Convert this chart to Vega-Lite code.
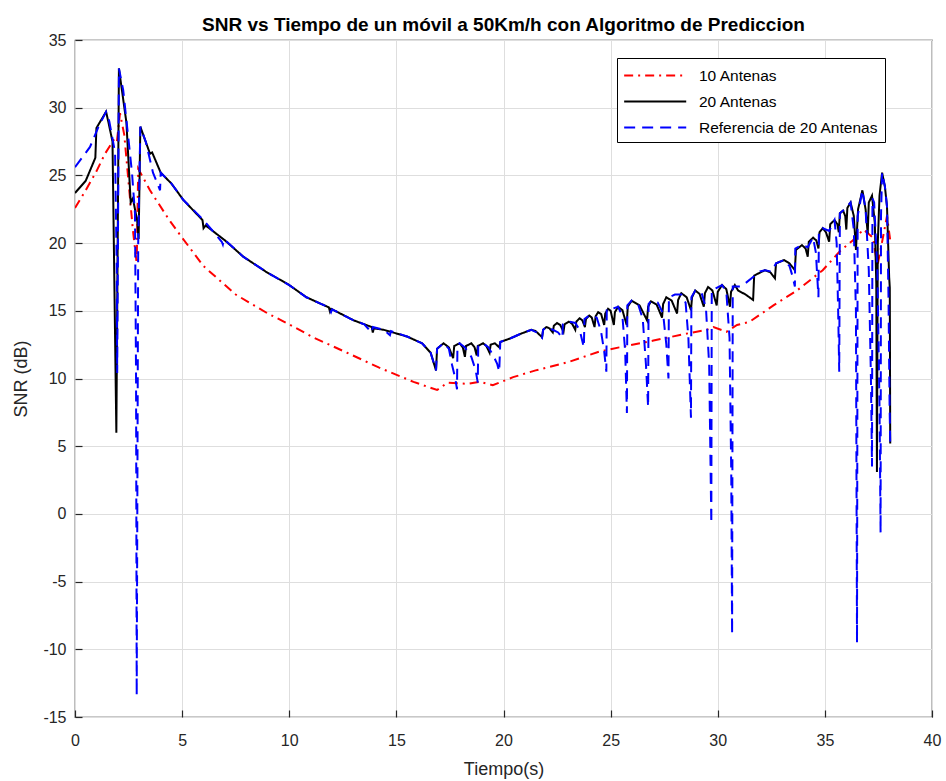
{
  "$schema": "https://vega.github.io/schema/vega-lite/v6.json",
  "width": 857,
  "height": 677,
  "autosize": {"type": "none"},
  "padding": {"left": 75, "top": 40, "right": 14, "bottom": 64},
  "background": "white",
  "title": {
    "text": "SNR vs Tiempo de un móvil a 50Km/h con Algoritmo de Prediccion",
    "fontSize": 19,
    "fontWeight": "bold",
    "font": "Liberation Sans",
    "color": "#000000",
    "anchor": "middle",
    "frame": "group",
    "baseline": "bottom",
    "offset": 8,
    "dy": 30
  },
  "config": {
    "font": "Liberation Sans",
    "view": {"stroke": "#262626", "strokeWidth": 1.2},
    "axis": {
      "labelFont": "Liberation Sans",
      "labelFontSize": 16,
      "labelColor": "#262626",
      "titleFont": "Liberation Sans",
      "titleFontSize": 18,
      "titleFontWeight": "normal",
      "titleColor": "#262626",
      "gridColor": "#dedede",
      "gridWidth": 1,
      "domain": false,
      "tickColor": "#262626",
      "tickSize": -7,
      "tickWidth": 1.2
    }
  },
  "data": {"values": [
    {"s":"10 Antenas","t":0,"v":22.6},{"s":"10 Antenas","t":0.5,"v":23.9},{"s":"10 Antenas","t":1.0,"v":25.3},{"s":"10 Antenas","t":1.4,"v":26.6},{"s":"10 Antenas","t":1.8,"v":27.6},{"s":"10 Antenas","t":1.95,"v":27.4},{"s":"10 Antenas","t":2.1,"v":29.6},{"s":"10 Antenas","t":2.3,"v":28.0},{"s":"10 Antenas","t":2.5,"v":24.5},{"s":"10 Antenas","t":2.7,"v":21.0},{"s":"10 Antenas","t":2.88,"v":18.5},{"s":"10 Antenas","t":2.95,"v":25.5},{"s":"10 Antenas","t":3.5,"v":23.9},{"s":"10 Antenas","t":4.4,"v":21.7},{"s":"10 Antenas","t":5.0,"v":20.4},{"s":"10 Antenas","t":6.0,"v":18.3},{"s":"10 Antenas","t":7.5,"v":16.2},{"s":"10 Antenas","t":9.0,"v":14.8},{"s":"10 Antenas","t":10.0,"v":14.0},{"s":"10 Antenas","t":11.1,"v":13.05},{"s":"10 Antenas","t":12.7,"v":11.9},{"s":"10 Antenas","t":14.2,"v":10.8},{"s":"10 Antenas","t":15.8,"v":9.75},{"s":"10 Antenas","t":16.9,"v":9.15},{"s":"10 Antenas","t":17.4,"v":9.7},{"s":"10 Antenas","t":18.3,"v":9.6},{"s":"10 Antenas","t":18.9,"v":9.75},{"s":"10 Antenas","t":19.5,"v":9.5},{"s":"10 Antenas","t":20.45,"v":10.1},{"s":"10 Antenas","t":21.5,"v":10.6},{"s":"10 Antenas","t":23.0,"v":11.2},{"s":"10 Antenas","t":24.5,"v":12.0},{"s":"10 Antenas","t":25.4,"v":12.3},{"s":"10 Antenas","t":27.0,"v":12.8},{"s":"10 Antenas","t":28.5,"v":13.3},{"s":"10 Antenas","t":29.5,"v":13.6},{"s":"10 Antenas","t":29.8,"v":13.8},{"s":"10 Antenas","t":30.4,"v":13.45},{"s":"10 Antenas","t":30.9,"v":13.95},{"s":"10 Antenas","t":31.5,"v":14.2},{"s":"10 Antenas","t":32.6,"v":15.4},{"s":"10 Antenas","t":33.7,"v":16.5},{"s":"10 Antenas","t":34.9,"v":18.0},{"s":"10 Antenas","t":35.7,"v":19.4},{"s":"10 Antenas","t":36.3,"v":20.2},{"s":"10 Antenas","t":36.8,"v":21.0},{"s":"10 Antenas","t":37.25,"v":20.4},{"s":"10 Antenas","t":37.45,"v":18.3},{"s":"10 Antenas","t":37.6,"v":19.5},{"s":"10 Antenas","t":37.9,"v":22.0},{"s":"10 Antenas","t":38.05,"v":20.2},

    {"s":"20 Antenas","t":0,"v":23.7},{"s":"20 Antenas","t":0.5,"v":24.6},{"s":"20 Antenas","t":0.95,"v":26.3},{"s":"20 Antenas","t":1.0,"v":28.5},{"s":"20 Antenas","t":1.45,"v":29.7},{"s":"20 Antenas","t":1.55,"v":29.0},{"s":"20 Antenas","t":1.75,"v":27.5},{"s":"20 Antenas","t":1.93,"v":6.0},{"s":"20 Antenas","t":2.05,"v":32.9},{"s":"20 Antenas","t":2.4,"v":28.9},{"s":"20 Antenas","t":2.6,"v":23.0},{"s":"20 Antenas","t":2.7,"v":23.3},{"s":"20 Antenas","t":2.9,"v":21.7},{"s":"20 Antenas","t":2.97,"v":20.3},{"s":"20 Antenas","t":3.05,"v":28.6},{"s":"20 Antenas","t":3.5,"v":26.6},{"s":"20 Antenas","t":3.6,"v":26.7},{"s":"20 Antenas","t":4.0,"v":25.2},{"s":"20 Antenas","t":4.5,"v":24.4},{"s":"20 Antenas","t":5.05,"v":23.2},{"s":"20 Antenas","t":5.95,"v":21.7},{"s":"20 Antenas","t":6.0,"v":21.1},{"s":"20 Antenas","t":6.1,"v":21.3},{"s":"20 Antenas","t":7.0,"v":20.2},{"s":"20 Antenas","t":7.85,"v":19.0},{"s":"20 Antenas","t":8.9,"v":17.9},{"s":"20 Antenas","t":10.0,"v":16.9},{"s":"20 Antenas","t":10.8,"v":16.0},{"s":"20 Antenas","t":11.85,"v":15.25},{"s":"20 Antenas","t":11.9,"v":14.95},{"s":"20 Antenas","t":11.95,"v":15.15},{"s":"20 Antenas","t":13.0,"v":14.3},{"s":"20 Antenas","t":13.85,"v":13.8},{"s":"20 Antenas","t":13.9,"v":13.4},{"s":"20 Antenas","t":13.95,"v":13.7},{"s":"20 Antenas","t":14.4,"v":13.6},{"s":"20 Antenas","t":15.5,"v":13.1},{"s":"20 Antenas","t":16.2,"v":12.6},{"s":"20 Antenas","t":16.6,"v":11.9},{"s":"20 Antenas","t":16.85,"v":10.6},{"s":"20 Antenas","t":16.9,"v":12.2},{"s":"20 Antenas","t":17.2,"v":12.6},{"s":"20 Antenas","t":17.45,"v":12.3},{"s":"20 Antenas","t":17.65,"v":11.5},{"s":"20 Antenas","t":17.7,"v":12.4},{"s":"20 Antenas","t":17.95,"v":12.6},{"s":"20 Antenas","t":18.1,"v":12.3},{"s":"20 Antenas","t":18.2,"v":11.6},{"s":"20 Antenas","t":18.25,"v":12.4},{"s":"20 Antenas","t":18.5,"v":12.6},{"s":"20 Antenas","t":18.65,"v":12.3},{"s":"20 Antenas","t":18.75,"v":11.7},{"s":"20 Antenas","t":18.8,"v":12.4},{"s":"20 Antenas","t":19.05,"v":12.6},{"s":"20 Antenas","t":19.2,"v":12.4},{"s":"20 Antenas","t":19.35,"v":11.9},{"s":"20 Antenas","t":19.4,"v":12.5},{"s":"20 Antenas","t":19.6,"v":12.6},{"s":"20 Antenas","t":19.8,"v":12.3},{"s":"20 Antenas","t":19.85,"v":12.7},{"s":"20 Antenas","t":20.3,"v":12.95},{"s":"20 Antenas","t":20.8,"v":13.3},{"s":"20 Antenas","t":21.3,"v":13.6},{"s":"20 Antenas","t":21.5,"v":13.5},{"s":"20 Antenas","t":21.8,"v":13.05},
    {"s":"20 Antenas","t":21.85,"v":13.6},{"s":"20 Antenas","t":22.0,"v":13.8},{"s":"20 Antenas","t":22.15,"v":13.7},{"s":"20 Antenas","t":22.3,"v":13.4},
    {"s":"20 Antenas","t":22.35,"v":13.9},{"s":"20 Antenas","t":22.5,"v":14.1},{"s":"20 Antenas","t":22.65,"v":13.95},{"s":"20 Antenas","t":22.8,"v":13.45},
    {"s":"20 Antenas","t":22.85,"v":14.0},{"s":"20 Antenas","t":23.05,"v":14.2},{"s":"20 Antenas","t":23.2,"v":14.05},{"s":"20 Antenas","t":23.35,"v":13.6},
    {"s":"20 Antenas","t":23.4,"v":14.2},{"s":"20 Antenas","t":23.55,"v":14.45},{"s":"20 Antenas","t":23.68,"v":14.3},{"s":"20 Antenas","t":23.8,"v":13.8},
    {"s":"20 Antenas","t":23.85,"v":14.4},{"s":"20 Antenas","t":24.0,"v":14.65},{"s":"20 Antenas","t":24.12,"v":14.5},{"s":"20 Antenas","t":24.25,"v":13.8},
    {"s":"20 Antenas","t":24.3,"v":14.6},{"s":"20 Antenas","t":24.42,"v":14.9},{"s":"20 Antenas","t":24.56,"v":14.75},{"s":"20 Antenas","t":24.7,"v":13.95},
    {"s":"20 Antenas","t":24.75,"v":14.8},{"s":"20 Antenas","t":24.88,"v":15.15},{"s":"20 Antenas","t":25.0,"v":15.0},{"s":"20 Antenas","t":25.15,"v":13.95},
    {"s":"20 Antenas","t":25.2,"v":14.9},{"s":"20 Antenas","t":25.35,"v":15.3},{"s":"20 Antenas","t":25.55,"v":15.05},{"s":"20 Antenas","t":25.75,"v":13.95},
    {"s":"20 Antenas","t":25.8,"v":15.3},{"s":"20 Antenas","t":25.98,"v":15.75},{"s":"20 Antenas","t":26.35,"v":15.4},{"s":"20 Antenas","t":26.7,"v":14.3},
    {"s":"20 Antenas","t":26.75,"v":15.3},{"s":"20 Antenas","t":26.88,"v":15.7},{"s":"20 Antenas","t":27.15,"v":15.45},{"s":"20 Antenas","t":27.4,"v":14.5},
    {"s":"20 Antenas","t":27.45,"v":15.5},{"s":"20 Antenas","t":27.6,"v":16.0},{"s":"20 Antenas","t":27.85,"v":15.75},{"s":"20 Antenas","t":28.1,"v":14.8},
    {"s":"20 Antenas","t":28.15,"v":15.8},{"s":"20 Antenas","t":28.3,"v":16.3},{"s":"20 Antenas","t":28.55,"v":16.0},{"s":"20 Antenas","t":28.75,"v":15.05},
    {"s":"20 Antenas","t":28.8,"v":16.0},{"s":"20 Antenas","t":28.95,"v":16.5},{"s":"20 Antenas","t":29.15,"v":16.25},{"s":"20 Antenas","t":29.35,"v":15.3},
    {"s":"20 Antenas","t":29.4,"v":16.3},{"s":"20 Antenas","t":29.55,"v":16.76},{"s":"20 Antenas","t":29.75,"v":16.5},{"s":"20 Antenas","t":29.95,"v":15.4},
    {"s":"20 Antenas","t":30.0,"v":16.4},{"s":"20 Antenas","t":30.2,"v":16.9},{"s":"20 Antenas","t":30.4,"v":16.6},{"s":"20 Antenas","t":30.57,"v":15.3},
    {"s":"20 Antenas","t":30.62,"v":16.4},{"s":"20 Antenas","t":30.8,"v":16.9},{"s":"20 Antenas","t":30.95,"v":16.5},{"s":"20 Antenas","t":31.3,"v":16.2},{"s":"20 Antenas","t":31.65,"v":15.8},
    {"s":"20 Antenas","t":31.7,"v":17.6},{"s":"20 Antenas","t":32.2,"v":18.0},{"s":"20 Antenas","t":32.45,"v":17.85},{"s":"20 Antenas","t":32.67,"v":17.4},
    {"s":"20 Antenas","t":32.72,"v":18.5},{"s":"20 Antenas","t":33.1,"v":18.75},{"s":"20 Antenas","t":33.35,"v":18.5},{"s":"20 Antenas","t":33.6,"v":18.0},
    {"s":"20 Antenas","t":33.65,"v":19.5},{"s":"20 Antenas","t":33.93,"v":19.85},{"s":"20 Antenas","t":34.1,"v":19.6},{"s":"20 Antenas","t":34.2,"v":19.0},
    {"s":"20 Antenas","t":34.25,"v":20.1},{"s":"20 Antenas","t":34.45,"v":20.4},{"s":"20 Antenas","t":34.6,"v":20.2},{"s":"20 Antenas","t":34.7,"v":19.6},
    {"s":"20 Antenas","t":34.75,"v":20.8},{"s":"20 Antenas","t":34.9,"v":21.1},{"s":"20 Antenas","t":35.05,"v":20.8},{"s":"20 Antenas","t":35.2,"v":20.1},
    {"s":"20 Antenas","t":35.25,"v":21.4},{"s":"20 Antenas","t":35.45,"v":21.7},{"s":"20 Antenas","t":35.58,"v":21.4},{"s":"20 Antenas","t":35.65,"v":20.8},
    {"s":"20 Antenas","t":35.7,"v":22.2},{"s":"20 Antenas","t":35.85,"v":22.4},{"s":"20 Antenas","t":35.95,"v":22.0},{"s":"20 Antenas","t":36.0,"v":21.0},
    {"s":"20 Antenas","t":36.05,"v":22.6},{"s":"20 Antenas","t":36.2,"v":23.0},{"s":"20 Antenas","t":36.35,"v":22.0},{"s":"20 Antenas","t":36.45,"v":19.5},
    {"s":"20 Antenas","t":36.55,"v":22.5},{"s":"20 Antenas","t":36.75,"v":23.9},{"s":"20 Antenas","t":36.9,"v":22.5},{"s":"20 Antenas","t":37.0,"v":20.7},
    {"s":"20 Antenas","t":37.05,"v":23.0},{"s":"20 Antenas","t":37.2,"v":23.5},{"s":"20 Antenas","t":37.33,"v":21.5},{"s":"20 Antenas","t":37.4,"v":17.0},{"s":"20 Antenas","t":37.43,"v":3.1},
    {"s":"20 Antenas","t":37.47,"v":20.0},{"s":"20 Antenas","t":37.55,"v":23.5},{"s":"20 Antenas","t":37.67,"v":25.2},{"s":"20 Antenas","t":37.8,"v":24.2},{"s":"20 Antenas","t":37.9,"v":22.7},{"s":"20 Antenas","t":38.0,"v":17.5},{"s":"20 Antenas","t":38.03,"v":16.7},{"s":"20 Antenas","t":38.05,"v":5.2},

    {"s":"Referencia de 20 Antenas","t":0,"v":25.6},{"s":"Referencia de 20 Antenas","t":0.7,"v":27.1},{"s":"Referencia de 20 Antenas","t":1.1,"v":28.6},{"s":"Referencia de 20 Antenas","t":1.45,"v":29.7},{"s":"Referencia de 20 Antenas","t":1.6,"v":29.0},{"s":"Referencia de 20 Antenas","t":1.87,"v":26.7},{"s":"Referencia de 20 Antenas","t":1.95,"v":18.0},{"s":"Referencia de 20 Antenas","t":1.97,"v":10.4},{"s":"Referencia de 20 Antenas","t":2.05,"v":32.9},{"s":"Referencia de 20 Antenas","t":2.25,"v":31.3},{"s":"Referencia de 20 Antenas","t":2.5,"v":27.6},{"s":"Referencia de 20 Antenas","t":2.66,"v":25.2},{"s":"Referencia de 20 Antenas","t":2.8,"v":22.2},{"s":"Referencia de 20 Antenas","t":2.85,"v":10.0},{"s":"Referencia de 20 Antenas","t":2.88,"v":-13.4},{"s":"Referencia de 20 Antenas","t":2.95,"v":20.0},{"s":"Referencia de 20 Antenas","t":3.05,"v":28.6},{"s":"Referencia de 20 Antenas","t":3.3,"v":27.5},{"s":"Referencia de 20 Antenas","t":3.64,"v":25.2},{"s":"Referencia de 20 Antenas","t":3.97,"v":23.9},{"s":"Referencia de 20 Antenas","t":4.0,"v":25.2},{"s":"Referencia de 20 Antenas","t":4.5,"v":24.4},{"s":"Referencia de 20 Antenas","t":5.05,"v":23.2},{"s":"Referencia de 20 Antenas","t":6.0,"v":21.7},{"s":"Referencia de 20 Antenas","t":6.85,"v":20.1},{"s":"Referencia de 20 Antenas","t":6.9,"v":19.9},{"s":"Referencia de 20 Antenas","t":6.95,"v":20.3},{"s":"Referencia de 20 Antenas","t":7.85,"v":19.0},{"s":"Referencia de 20 Antenas","t":8.9,"v":17.9},{"s":"Referencia de 20 Antenas","t":10.0,"v":16.9},{"s":"Referencia de 20 Antenas","t":10.8,"v":16.0},{"s":"Referencia de 20 Antenas","t":11.85,"v":15.25},{"s":"Referencia de 20 Antenas","t":11.95,"v":14.9},{"s":"Referencia de 20 Antenas","t":12.0,"v":15.1},{"s":"Referencia de 20 Antenas","t":13.0,"v":14.3},{"s":"Referencia de 20 Antenas","t":13.5,"v":14.0},{"s":"Referencia de 20 Antenas","t":13.85,"v":13.4},{"s":"Referencia de 20 Antenas","t":13.9,"v":13.8},{"s":"Referencia de 20 Antenas","t":14.4,"v":13.6},{"s":"Referencia de 20 Antenas","t":14.7,"v":13.2},{"s":"Referencia de 20 Antenas","t":14.75,"v":13.5},{"s":"Referencia de 20 Antenas","t":15.5,"v":13.1},{"s":"Referencia de 20 Antenas","t":16.2,"v":12.6},{"s":"Referencia de 20 Antenas","t":16.6,"v":11.9},{"s":"Referencia de 20 Antenas","t":16.85,"v":10.6},{"s":"Referencia de 20 Antenas","t":16.9,"v":12.2},{"s":"Referencia de 20 Antenas","t":17.2,"v":12.6},{"s":"Referencia de 20 Antenas","t":17.45,"v":12.2},{"s":"Referencia de 20 Antenas","t":17.6,"v":11.0},{"s":"Referencia de 20 Antenas","t":17.75,"v":10.0},{"s":"Referencia de 20 Antenas","t":17.83,"v":9.2},{"s":"Referencia de 20 Antenas","t":17.85,"v":12.45},{"s":"Referencia de 20 Antenas","t":17.95,"v":12.6},{"s":"Referencia de 20 Antenas","t":18.2,"v":12.3},{"s":"Referencia de 20 Antenas","t":18.5,"v":11.6},{"s":"Referencia de 20 Antenas","t":18.7,"v":10.6},{"s":"Referencia de 20 Antenas","t":18.8,"v":9.7},{"s":"Referencia de 20 Antenas","t":18.82,"v":12.4},{"s":"Referencia de 20 Antenas","t":19.05,"v":12.6},{"s":"Referencia de 20 Antenas","t":19.3,"v":12.3},{"s":"Referencia de 20 Antenas","t":19.55,"v":11.6},{"s":"Referencia de 20 Antenas","t":19.7,"v":11.1},{"s":"Referencia de 20 Antenas","t":19.8,"v":10.5},{"s":"Referencia de 20 Antenas","t":19.85,"v":12.7},{"s":"Referencia de 20 Antenas","t":20.3,"v":12.95},{"s":"Referencia de 20 Antenas","t":20.8,"v":13.3},{"s":"Referencia de 20 Antenas","t":21.3,"v":13.6},{"s":"Referencia de 20 Antenas","t":21.55,"v":13.4},{"s":"Referencia de 20 Antenas","t":21.8,"v":13.0},{"s":"Referencia de 20 Antenas","t":21.85,"v":13.6},{"s":"Referencia de 20 Antenas","t":22.0,"v":13.8},{"s":"Referencia de 20 Antenas","t":22.3,"v":13.6},{"s":"Referencia de 20 Antenas","t":22.55,"v":13.4},{"s":"Referencia de 20 Antenas","t":22.75,"v":13.0},{"s":"Referencia de 20 Antenas","t":22.77,"v":14.0},{"s":"Referencia de 20 Antenas","t":23.05,"v":14.2},{"s":"Referencia de 20 Antenas","t":23.35,"v":14.1},{"s":"Referencia de 20 Antenas","t":23.55,"v":13.6},{"s":"Referencia de 20 Antenas","t":23.75,"v":12.3},{"s":"Referencia de 20 Antenas","t":23.78,"v":14.4},{"s":"Referencia de 20 Antenas","t":24.0,"v":14.65},{"s":"Referencia de 20 Antenas","t":24.35,"v":14.5},{"s":"Referencia de 20 Antenas","t":24.55,"v":13.5},{"s":"Referencia de 20 Antenas","t":24.7,"v":12.0},{"s":"Referencia de 20 Antenas","t":24.8,"v":10.5},{"s":"Referencia de 20 Antenas","t":24.82,"v":15.1},{"s":"Referencia de 20 Antenas","t":25.0,"v":15.1},{"s":"Referencia de 20 Antenas","t":25.35,"v":15.3},{"s":"Referencia de 20 Antenas","t":25.55,"v":14.6},{"s":"Referencia de 20 Antenas","t":25.68,"v":12.0},{"s":"Referencia de 20 Antenas","t":25.76,"v":7.45},{"s":"Referencia de 20 Antenas","t":25.78,"v":15.4},{"s":"Referencia de 20 Antenas","t":25.98,"v":15.75},{"s":"Referencia de 20 Antenas","t":26.3,"v":15.4},{"s":"Referencia de 20 Antenas","t":26.5,"v":14.4},{"s":"Referencia de 20 Antenas","t":26.65,"v":11.0},{"s":"Referencia de 20 Antenas","t":26.75,"v":7.9},{"s":"Referencia de 20 Antenas","t":26.77,"v":15.5},{"s":"Referencia de 20 Antenas","t":26.88,"v":15.7},{"s":"Referencia de 20 Antenas","t":27.2,"v":15.6},{"s":"Referencia de 20 Antenas","t":27.45,"v":14.8},{"s":"Referencia de 20 Antenas","t":27.6,"v":12.5},{"s":"Referencia de 20 Antenas","t":27.7,"v":10.0},{"s":"Referencia de 20 Antenas","t":27.72,"v":16.0},{"s":"Referencia de 20 Antenas","t":28.0,"v":16.2},{"s":"Referencia de 20 Antenas","t":28.3,"v":16.2},{"s":"Referencia de 20 Antenas","t":28.5,"v":15.6},{"s":"Referencia de 20 Antenas","t":28.63,"v":13.0},{"s":"Referencia de 20 Antenas","t":28.75,"v":7.1},{"s":"Referencia de 20 Antenas","t":28.77,"v":16.0},{"s":"Referencia de 20 Antenas","t":28.95,"v":16.5},{"s":"Referencia de 20 Antenas","t":29.25,"v":16.3},{"s":"Referencia de 20 Antenas","t":29.45,"v":15.2},{"s":"Referencia de 20 Antenas","t":29.6,"v":11.0},{"s":"Referencia de 20 Antenas","t":29.7,"v":-0.7},{"s":"Referencia de 20 Antenas","t":29.72,"v":16.5},{"s":"Referencia de 20 Antenas","t":29.95,"v":16.7},{"s":"Referencia de 20 Antenas","t":30.2,"v":16.9},{"s":"Referencia de 20 Antenas","t":30.4,"v":16.4},{"s":"Referencia de 20 Antenas","t":30.55,"v":13.0},{"s":"Referencia de 20 Antenas","t":30.63,"v":3.0},{"s":"Referencia de 20 Antenas","t":30.67,"v":-8.9},{"s":"Referencia de 20 Antenas","t":30.7,"v":16.8},{"s":"Referencia de 20 Antenas","t":31.04,"v":16.8},{"s":"Referencia de 20 Antenas","t":31.3,"v":17.05},{"s":"Referencia de 20 Antenas","t":31.65,"v":17.5},{"s":"Referencia de 20 Antenas","t":31.97,"v":17.9},{"s":"Referencia de 20 Antenas","t":32.2,"v":18.0},{"s":"Referencia de 20 Antenas","t":32.5,"v":17.9},{"s":"Referencia de 20 Antenas","t":32.72,"v":18.5},{"s":"Referencia de 20 Antenas","t":33.1,"v":18.75},{"s":"Referencia de 20 Antenas","t":33.35,"v":18.3},{"s":"Referencia de 20 Antenas","t":33.5,"v":17.5},{"s":"Referencia de 20 Antenas","t":33.6,"v":16.8},{"s":"Referencia de 20 Antenas","t":33.62,"v":19.6},{"s":"Referencia de 20 Antenas","t":33.93,"v":19.85},{"s":"Referencia de 20 Antenas","t":34.2,"v":19.7},{"s":"Referencia de 20 Antenas","t":34.45,"v":20.4},{"s":"Referencia de 20 Antenas","t":34.58,"v":19.3},{"s":"Referencia de 20 Antenas","t":34.7,"v":16.0},{"s":"Referencia de 20 Antenas","t":34.72,"v":20.9},{"s":"Referencia de 20 Antenas","t":34.9,"v":21.1},{"s":"Referencia de 20 Antenas","t":35.2,"v":20.9},{"s":"Referencia de 20 Antenas","t":35.45,"v":21.7},{"s":"Referencia de 20 Antenas","t":35.55,"v":20.0},{"s":"Referencia de 20 Antenas","t":35.62,"v":15.0},{"s":"Referencia de 20 Antenas","t":35.67,"v":10.5},{"s":"Referencia de 20 Antenas","t":35.7,"v":22.2},{"s":"Referencia de 20 Antenas","t":35.85,"v":22.4},{"s":"Referencia de 20 Antenas","t":36.2,"v":23.0},{"s":"Referencia de 20 Antenas","t":36.35,"v":21.0},{"s":"Referencia de 20 Antenas","t":36.45,"v":15.0},{"s":"Referencia de 20 Antenas","t":36.5,"v":-9.5},{"s":"Referencia de 20 Antenas","t":36.53,"v":22.0},{"s":"Referencia de 20 Antenas","t":36.75,"v":23.9},{"s":"Referencia de 20 Antenas","t":36.9,"v":22.5},{"s":"Referencia de 20 Antenas","t":37.05,"v":18.0},{"s":"Referencia de 20 Antenas","t":37.15,"v":10.0},{"s":"Referencia de 20 Antenas","t":37.2,"v":3.5},{"s":"Referencia de 20 Antenas","t":37.22,"v":23.3},{"s":"Referencia de 20 Antenas","t":37.3,"v":23.0},{"s":"Referencia de 20 Antenas","t":37.45,"v":18.0},{"s":"Referencia de 20 Antenas","t":37.55,"v":8.0},{"s":"Referencia de 20 Antenas","t":37.6,"v":-1.4},{"s":"Referencia de 20 Antenas","t":37.62,"v":22.0},{"s":"Referencia de 20 Antenas","t":37.67,"v":25.2},{"s":"Referencia de 20 Antenas","t":37.8,"v":24.2},{"s":"Referencia de 20 Antenas","t":37.9,"v":22.7},{"s":"Referencia de 20 Antenas","t":37.97,"v":16.0},{"s":"Referencia de 20 Antenas","t":38.02,"v":8.0},{"s":"Referencia de 20 Antenas","t":38.05,"v":5.2}
  ]},
  "mark": {"type": "line", "strokeWidth": 2, "clip": true},
  "encoding": {
    "x": {
      "field": "t", "type": "quantitative",
      "scale": {"domain": [0, 40], "nice": false, "zero": false},
      "axis": {"title": "Tiempo(s)", "values": [0,5,10,15,20,25,30,35,40], "labelExpr": "'' + datum.value", "labelPadding": 22, "titlePadding": 12, "labelFlush": false}
    },
    "y": {
      "field": "v", "type": "quantitative",
      "scale": {"domain": [-15, 35], "nice": false, "zero": false},
      "axis": {"title": "SNR (dB)", "values": [-15,-10,-5,0,5,10,15,20,25,30,35], "labelExpr": "'' + datum.value", "labelPadding": 16, "titlePadding": 12, "labelFlush": false}
    },
    "color": {
      "field": "s", "type": "nominal",
      "scale": {"domain": ["10 Antenas", "20 Antenas", "Referencia de 20 Antenas"], "range": ["#ff0000", "#000000", "#0000ff"]},
      "legend": {
        "title": null,
        "orient": "none",
        "legendX": 542,
        "legendY": 18,
        "padding": 6,
        "rowPadding": 6,
        "strokeColor": "#000000",
        "fillColor": "#ffffff",
        "symbolType": "M-1,0L5,0",
        "symbolSize": 428,
        "symbolStrokeWidth": 2,
        "labelFontSize": 15.5,
        "labelColor": "#000000",
        "labelFont": "Liberation Sans",
        "labelOffset": 53,
        "labelLimit": 400
      }
    },
    "strokeDash": {
      "field": "s", "type": "nominal",
      "scale": {"domain": ["10 Antenas", "20 Antenas", "Referencia de 20 Antenas"], "range": [[9, 5, 2, 5], [1, 0], [11, 7]]},
      "legend": null
    }
  }
}
